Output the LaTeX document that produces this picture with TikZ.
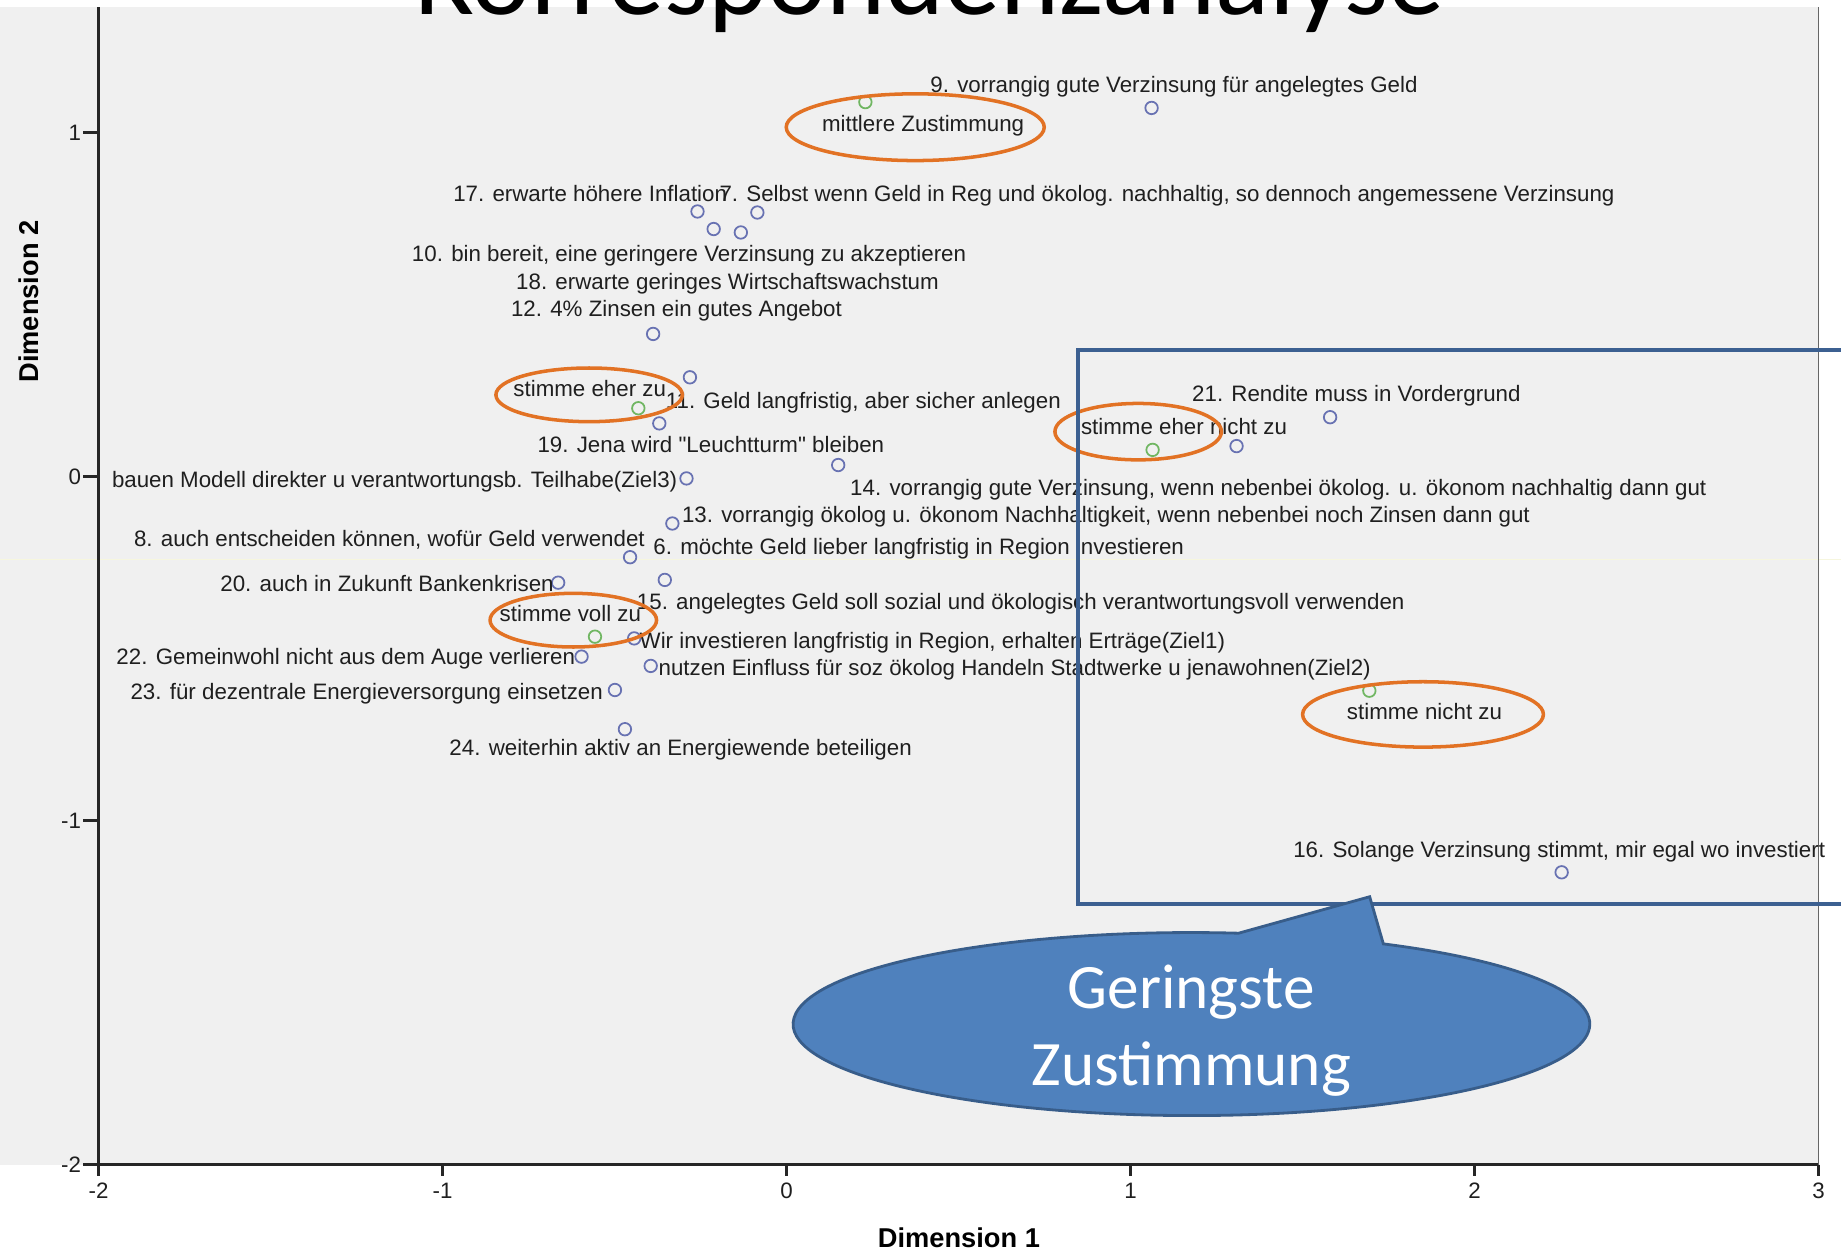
\documentclass[tikz,border=0pt]{standalone}
\usepackage{fontspec}
\setmainfont{Liberation Sans}
\newfontfamily\slidefont{Carlito}

\definecolor{plotbg}{RGB}{240,240,240}
\definecolor{dotblue}{RGB}{104,114,178}
\definecolor{dotgreen}{RGB}{112,182,98}
\definecolor{ringorange}{RGB}{226,114,36}
\definecolor{boxblue}{RGB}{60,96,145}
\definecolor{callfill}{RGB}{79,129,189}
\definecolor{callline}{RGB}{56,93,138}
\definecolor{faintyellow}{RGB}{246,246,222}

\tikzset{
  lab/.style={font=\fontsize{12.7}{15}\selectfont, text=black!88, inner sep=0pt,
    anchor=west, text height=9.1pt, text depth=0pt},
  ticklab/.style={lab, anchor=center},
  axtitle/.style={font=\bfseries\fontsize{15.5}{18}\selectfont, inner sep=0pt},
  pt/.style={circle, draw=dotblue, line width=1pt, minimum size=0.25cm, inner sep=0pt},
  cat/.style={pt, draw=dotgreen},
  ring/.style={draw=ringorange, line width=2pt},
  axis/.style={line width=1.4pt, black!85},
}

\begin{document}
\begin{tikzpicture}[x=6.88cm, y=6.88cm]
\useasboundingbox (-2.2866,-2.2567) rectangle (3.0651,1.3858);
\fill[white] (-2.2866,-2.2567) rectangle (3.0651,1.3858);
\fill[plotbg] (-2.2866,-2) rectangle (3,1.365);
\draw[faintyellow, line width=0.6pt] (-2.2866,-0.242) -- (3.0651,-0.242);

% axes and ticks
\draw[axis] (-2,1.365) -- (-2,-2) -- (3,-2);
\draw[black!60, line width=0.7pt] (3,-2) -- (3,1.365);
\foreach \y in {1,0,-1,-2} {
  \draw[axis] (-2.045,\y) -- (-2,\y);
  \node (ylab\y) [ticklab, anchor=east] at (-2.05,\y) {\y};
}
\foreach \x in {-2,...,3} {
  \draw[axis] (\x,-2) -- (\x,-2.032);
  \node (xlab\x) [ticklab] at (\x,-2.076) {\x};
}
\node (dim1) [axtitle] at (0.501,-2.213) {Dimension 1};
\node (dim2) [axtitle, rotate=90] at (-2.204,0.509) {Dimension 2};

% points
\node (cmittel) [cat] at (0.229,1.089) {};
\node (p9) [pt] at (1.061,1.072) {};
\node (p17) [pt] at (-0.259,0.771) {};
\node (p10) [pt] at (-0.212,0.720) {};
\node (p18) [pt] at (-0.133,0.710) {};
\node (p7) [pt] at (-0.085,0.768) {};
\node (p12) [pt] at (-0.388,0.415) {};
\node (p11) [pt] at (-0.281,0.289) {};
\node (ceherzu) [cat] at (-0.431,0.199) {};
\node (p19) [pt] at (-0.370,0.155) {};
\node (p14) [pt] at (0.150,0.034) {};
\node (pz3) [pt] at (-0.291,-0.005) {};
\node (p13) [pt] at (-0.332,-0.136) {};
\node (p8) [pt] at (-0.455,-0.234) {};
\node (p15) [pt] at (-0.354,-0.300) {};
\node (p20) [pt] at (-0.664,-0.308) {};
\node (cvoll) [cat] at (-0.557,-0.465) {};
\node (pz1) [pt] at (-0.443,-0.470) {};
\node (p22) [pt] at (-0.596,-0.523) {};
\node (pz2) [pt] at (-0.395,-0.550) {};
\node (p23) [pt] at (-0.499,-0.620) {};
\node (p24) [pt] at (-0.470,-0.734) {};
\node (cehernicht) [cat] at (1.064,0.078) {};
\node (p6) [pt] at (1.308,0.089) {};
\node (p21) [pt] at (1.580,0.173) {};
\node (cnicht) [cat] at (1.694,-0.622) {};
\node (p16) [pt] at (2.253,-1.150) {};

% labels
\node (l9) [lab] at (0.417,1.141) {9. vorrangig gute Verzinsung für angelegtes Geld};
\node (lmittel) [lab] at (0.102,1.026) {mittlere Zustimmung};
\node (l17) [lab] at (-0.970,0.824) {17. erwarte höhere Inflation};
\node (l7) [lab] at (-0.196,0.824) {7. Selbst wenn Geld in Reg und ökolog. nachhaltig, so dennoch angemessene Verzinsung};
\node (l10) [lab] at (-1.090,0.649) {10. bin bereit, eine geringere Verzinsung zu akzeptieren};
\node (l18) [lab] at (-0.787,0.567) {18. erwarte geringes Wirtschaftswachstum};
\node (l12) [lab] at (-0.802,0.490) {12. 4\% Zinsen ein gutes Angebot};
\node (leherzu) [lab] at (-0.795,0.257) {stimme eher zu};
\node (l11) [lab] at (-0.352,0.221) {11. Geld langfristig, aber sicher anlegen};
\node (l19) [lab] at (-0.725,0.095) {19. Jena wird \textquotedbl Leuchtturm\textquotedbl\ bleiben};
\node (lz3) [lab] at (-1.962,-0.008) {bauen Modell direkter u verantwortungsb. Teilhabe(Ziel3)};
\node (l14) [lab] at (0.184,-0.031) {14. vorrangig gute Verzinsung, wenn nebenbei ökolog. u. ökonom nachhaltig dann gut};
\node (l13) [lab] at (-0.305,-0.111) {13. vorrangig ökolog u. ökonom Nachhaltigkeit, wenn nebenbei noch Zinsen dann gut};
\node (l8) [lab] at (-1.898,-0.179) {8. auch entscheiden können, wofür Geld verwendet};
\node (l6) [lab] at (-0.388,-0.204) {6. möchte Geld lieber langfristig in Region investieren};
\node (l20) [lab] at (-1.647,-0.310) {20. auch in Zukunft Bankenkrisen};
\node (l15) [lab] at (-0.436,-0.363) {15. angelegtes Geld soll sozial und ökologisch verantwortungsvoll verwenden};
\node (lvoll) [lab] at (-0.835,-0.397) {stimme voll zu};
\node (lz1) [lab] at (-0.428,-0.475) {Wir investieren langfristig in Region, erhalten Erträge(Ziel1)};
\node (l22) [lab] at (-1.949,-0.523) {22. Gemeinwohl nicht aus dem Auge verlieren};
\node (lz2) [lab] at (-0.373,-0.555) {nutzen Einfluss für soz ökolog Handeln Stadtwerke u jenawohnen(Ziel2)};
\node (l23) [lab] at (-1.908,-0.625) {23. für dezentrale Energieversorgung einsetzen};
\node (l24) [lab] at (-0.981,-0.787) {24. weiterhin aktiv an Energiewende beteiligen};
\node (l21) [lab] at (1.178,0.243) {21. Rendite muss in Vordergrund};
\node (lehernicht) [lab] at (0.855,0.145) {stimme eher nicht zu};
\node (lnicht) [lab] at (1.628,-0.683) {stimme nicht zu};
\node (l16) [lab] at (1.472,-1.085) {16. Solange Verzinsung stimmt, mir egal wo investiert};

% marked answer categories
\draw[ring] (0.374,1.016) ellipse [x radius=0.375, y radius=0.097];
\draw[ring] (-0.574,0.238) ellipse [x radius=0.271, y radius=0.078];
\draw[ring] (1.022,0.131) ellipse [x radius=0.242, y radius=0.082];
\draw[ring] (-0.620,-0.417) ellipse [x radius=0.242, y radius=0.078];
\draw[ring] (1.850,-0.691) ellipse [x radius=0.350, y radius=0.095];

% region and callout
\draw[boxblue, line width=2.5pt] (0.847,0.368) rectangle (3.2,-1.242);
\filldraw[fill=callfill, draw=callline, line width=1.6pt]
  (1.695,-1.221) -- (1.314,-1.327)
  arc[start angle=83.2, end angle=421.2, x radius=1.158, y radius=0.266] -- cycle;
\node (geringste) [font=\slidefont\fontsize{36}{43.6}\selectfont, text=white,
  align=center, inner sep=0pt] at (1.176,-1.611) {Geringste\\Zustimmung};

\node (title) [font=\slidefont\fontsize{64}{70}\selectfont, anchor=base,
  inner sep=0pt] at (0.417,1.345) {Korrespondenzanalyse};
\end{tikzpicture}
\end{document}
